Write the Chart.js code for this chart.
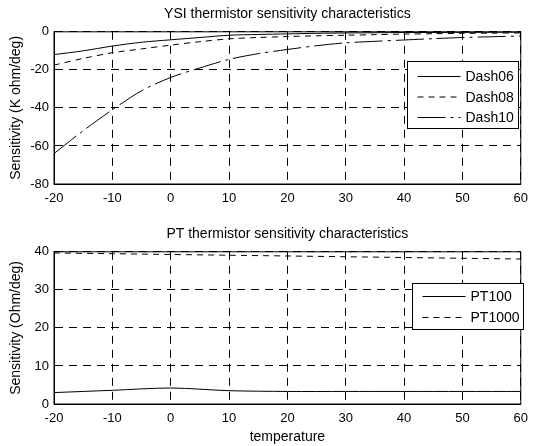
<!DOCTYPE html>
<html>
<head>
<meta charset="utf-8">
<script src="https://cdn.jsdelivr.net/npm/chart.js@4"></script>
<style>
  body { margin: 0; background: #fff; }
  canvas { position: absolute; left: 0; }
  #ysi { top: 0; }
  #pt { top: 220px; }
</style>
</head>
<body>
<canvas id="ysi" width="535" height="220"></canvas>
<canvas id="pt" width="535" height="226"></canvas>
<script>
// temperatures (deg)
const tempsYSI = [-20, -15, -10, -5, 0, 5, 10, 15, 20, 25, 30, 35, 40, 45, 50, 55, 60];
const dash06 = [-12, -10, -7.5, -5.5, -4.2, -3, -1.8, -1.4, -1.1, -0.8, -0.6, -0.5, -0.4, -0.35, -0.3, -0.25, -0.2];
const dash08 = [-17.5, -14, -11, -9, -7, -5.2, -3.7, -3, -2.5, -2.1, -1.8, -1.5, -1.2, -1, -0.8, -0.7, -0.6];
const dash10 = [-64, -52, -41, -31, -24, -19, -14.5, -11.5, -9.3, -7.3, -5.8, -5, -4.3, -3.6, -3, -2.6, -2.2];

const tempsPT = [-20, -10, 0, 10, 20, 30, 40, 50, 60];
const pt100 = [3.0, 3.6, 4.2, 3.5, 3.3, 3.3, 3.3, 3.3, 3.3];
const pt1000 = [39.7, 39.5, 39.3, 39.1, 38.9, 38.7, 38.5, 38.3, 38.1];

const FONT = "'Liberation Sans', Arial, sans-serif";
Chart.defaults.font.family = FONT;
Chart.defaults.color = '#000';

function pts(xs, ys) {
    return xs.map((x, i) => ({ x: x, y: ys[i] }));
}

// box around plot + legend drawn inside
const boxPlugin = {
    id: 'boxLegend',
    afterDraw(chart, args, opts) {
        const ctx = chart.ctx;
        const a = chart.chartArea;
        ctx.save();
        ctx.strokeStyle = '#000';
        ctx.lineWidth = 1;
        ctx.strokeRect(a.left, a.top, a.right - a.left, a.bottom - a.top);
        // legend
        ctx.fillStyle = '#fff';
        ctx.fillRect(opts.x, opts.y, opts.w, opts.h);
        ctx.strokeRect(opts.x, opts.y, opts.w, opts.h);
        ctx.font = '14px ' + FONT;
        ctx.textBaseline = 'middle';
        chart.data.datasets.forEach((ds, i) => {
            const yy = opts.y + opts.row0 + i * opts.rowH;
            ctx.beginPath();
            ctx.setLineDash(ds.borderDash || []);
            ctx.moveTo(opts.x + 10, yy);
            ctx.lineTo(opts.x + 53, yy);
            ctx.stroke();
            ctx.setLineDash([]);
            ctx.fillStyle = '#000';
            ctx.fillText(ds.label, opts.x + 58, yy + 1);
        });
        ctx.restore();
    }
};

function axes(ymin, ymax, ystep, ytitle, xtitle, xh) {
    return {
        x: {
            type: 'linear', min: -20, max: 60,
            ticks: { stepSize: 10, padding: 7, font: { size: 13 } },
            grid: { color: '#000', drawTicks: false },
            border: { display: true, color: '#000', dash: [8, 6] },
            title: { display: !!xtitle, text: xtitle, font: { size: 14 }, padding: 0 },
            afterFit(s) { s.height = xh; }
        },
        y: {
            min: ymin, max: ymax,
            ticks: { stepSize: ystep, padding: 5, font: { size: 13 } },
            grid: { color: '#000', drawTicks: false },
            border: { display: true, color: '#000', dash: [8, 6] },
            title: { display: true, text: ytitle, font: { size: 14 }, padding: { top: 8, bottom: 0 } },
            afterFit(s) { s.width = 54; }
        }
    };
}

function base(title) {
    return {
        responsive: false,
        animation: false,
        layout: { padding: { left: 0, right: 10, top: 0, bottom: 0 } },
        elements: { point: { radius: 0 }, line: { borderWidth: 1, tension: 0.3 } },
        plugins: {
            legend: { display: false },
            tooltip: { enabled: false },
            title: {
                display: true, text: title, fullSize: false,
                font: { size: 14, weight: 'normal' },
                padding: { top: 6, bottom: 9 }
            }
        }
    };
}

const ysiOpts = base('YSI thermistor sensitivity characteristics');
ysiOpts.scales = axes(-80, 0, 20, 'Sensitivity (K ohm/deg)', '', 36);
ysiOpts.plugins.boxLegend = { x: 407.5, y: 61.5, w: 111, h: 67, row0: 15, rowH: 20.5 };

new Chart(document.getElementById('ysi').getContext('2d'), {
    type: 'line',
    data: {
        datasets: [
            { label: 'Dash06', data: pts(tempsYSI, dash06), borderColor: '#000', borderDash: [] },
            { label: 'Dash08', data: pts(tempsYSI, dash08), borderColor: '#000', borderDash: [6, 5] },
            { label: 'Dash10', data: pts(tempsYSI, dash10), borderColor: '#000', borderDash: [28, 5, 3, 5] }
        ]
    },
    options: ysiOpts,
    plugins: [boxPlugin]
});

const ptOpts = base('PT thermistor sensitivity characteristics');
ptOpts.scales = axes(0, 40, 10, 'Sensitivity (Ohm/deg)', 'temperature', 42);
ptOpts.plugins.boxLegend = { x: 412.5, y: 63.5, w: 111, h: 46, row0: 13, rowH: 21 };

new Chart(document.getElementById('pt').getContext('2d'), {
    type: 'line',
    data: {
        datasets: [
            { label: 'PT100', data: pts(tempsPT, pt100), borderColor: '#000', borderDash: [] },
            { label: 'PT1000', data: pts(tempsPT, pt1000), borderColor: '#000', borderDash: [6, 5] }
        ]
    },
    options: ptOpts,
    plugins: [boxPlugin]
});
</script>
</body>
</html>
